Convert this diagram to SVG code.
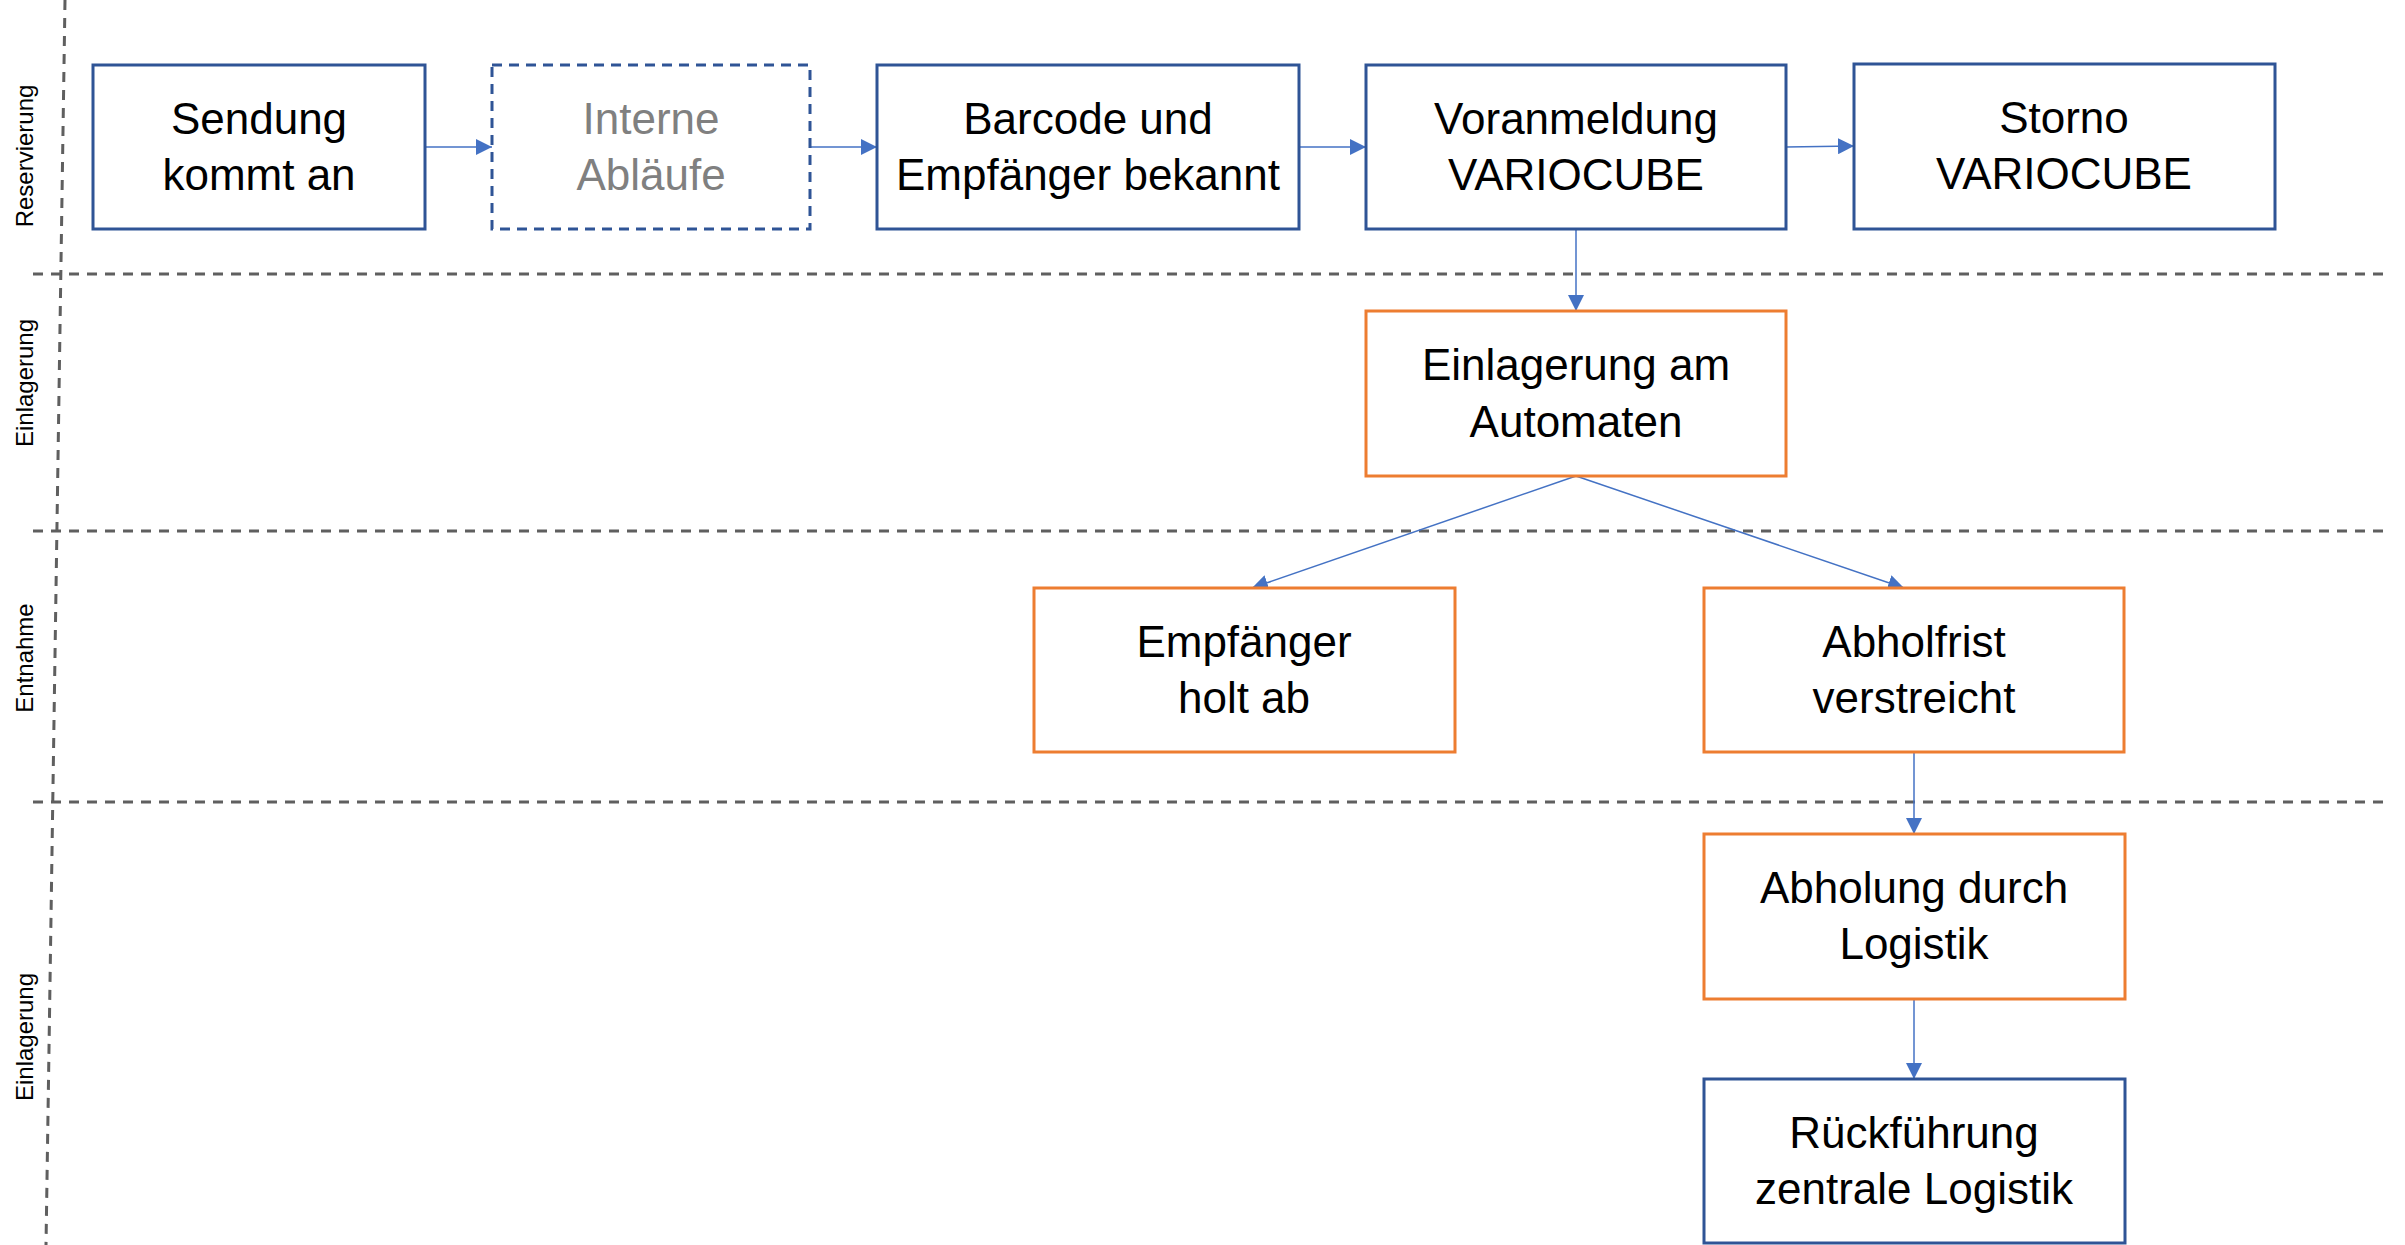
<svg xmlns="http://www.w3.org/2000/svg" width="2405" height="1245" viewBox="0 0 2405 1245">
<defs>
<style>
.bg{fill:#ffffff}
.lane{stroke:#5f5f5f;stroke-width:3;stroke-dasharray:10 8;fill:none}
.lbl{font-family:"Liberation Sans",Arial,sans-serif;font-size:24px;fill:#000;text-anchor:middle}
.box{fill:#ffffff;stroke-width:3}
.blue{stroke:#2F5496}
.orange{stroke:#ED7D31}
.dash{stroke-dasharray:10 7}
.t{font-family:"Liberation Sans",Arial,sans-serif;font-size:44px;fill:#000;text-anchor:middle}
.grey{fill:#808080}
.con{stroke:#4472C4;stroke-width:1.5;fill:none;marker-end:url(#arr)}
</style>
<marker id="arr" markerUnits="userSpaceOnUse" markerWidth="16" markerHeight="16" viewBox="0 0 15 15" refX="15" refY="7.5" orient="auto">
<path d="M0,0 L15,7.5 L0,15 Z" fill="#4472C4"/>
</marker>
</defs>
<rect class="bg" x="0" y="0" width="2405" height="1245"/>
<g id="lanes">
<line class="lane" x1="33" y1="274" x2="2388" y2="274"/>
<line class="lane" x1="33" y1="531" x2="2388" y2="531"/>
<line class="lane" x1="33" y1="802" x2="2388" y2="802"/>
<line class="lane" x1="65" y1="0" x2="46" y2="1245"/>
<text class="lbl" transform="translate(33,156) rotate(-90)">Reservierung</text>
<text class="lbl" transform="translate(33,383) rotate(-90)">Einlagerung</text>
<text class="lbl" transform="translate(33,658) rotate(-90)">Entnahme</text>
<text class="lbl" transform="translate(33,1037) rotate(-90)">Einlagerung</text>
</g>
<g id="connectors">
<line class="con" x1="425" y1="147" x2="492" y2="147"/>
<line class="con" x1="810" y1="147" x2="877" y2="147"/>
<line class="con" x1="1299" y1="147" x2="1366" y2="147"/>
<line class="con" x1="1786" y1="147" x2="1854" y2="146"/>
<line class="con" x1="1576" y1="229" x2="1576" y2="311"/>
<line class="con" x1="1576" y1="476" x2="1252" y2="588"/>
<line class="con" x1="1576" y1="476" x2="1904" y2="588"/>
<line class="con" x1="1914" y1="752" x2="1914" y2="834"/>
<line class="con" x1="1914" y1="999" x2="1914" y2="1079"/>
</g>
<g id="n1">
<rect class="box blue" x="93" y="65" width="332" height="164"/>
<text class="t" x="259" y="134">Sendung</text>
<text class="t" x="259" y="190">kommt an</text>
</g>
<g id="n2">
<rect class="box blue dash" x="492" y="65" width="318" height="164"/>
<text class="t grey" x="651" y="134">Interne</text>
<text class="t grey" x="651" y="190">Abläufe</text>
</g>
<g id="n3">
<rect class="box blue" x="877" y="65" width="422" height="164"/>
<text class="t" x="1088" y="134">Barcode und</text>
<text class="t" x="1088" y="190">Empfänger bekannt</text>
</g>
<g id="n4">
<rect class="box blue" x="1366" y="65" width="420" height="164"/>
<text class="t" x="1576" y="134">Voranmeldung</text>
<text class="t" x="1576" y="190">VARIOCUBE</text>
</g>
<g id="n5">
<rect class="box blue" x="1854" y="64" width="421" height="165"/>
<text class="t" x="2064" y="133">Storno</text>
<text class="t" x="2064" y="189">VARIOCUBE</text>
</g>
<g id="n6">
<rect class="box orange" x="1366" y="311" width="420" height="165"/>
<text class="t" x="1576" y="380">Einlagerung am</text>
<text class="t" x="1576" y="437">Automaten</text>
</g>
<g id="n7">
<rect class="box orange" x="1034" y="588" width="421" height="164"/>
<text class="t" x="1244" y="657">Empfänger</text>
<text class="t" x="1244" y="713">holt ab</text>
</g>
<g id="n8">
<rect class="box orange" x="1704" y="588" width="420" height="164"/>
<text class="t" x="1914" y="657">Abholfrist</text>
<text class="t" x="1914" y="713">verstreicht</text>
</g>
<g id="n9">
<rect class="box orange" x="1704" y="834" width="421" height="165"/>
<text class="t" x="1914" y="903">Abholung durch</text>
<text class="t" x="1914" y="959">Logistik</text>
</g>
<g id="n10">
<rect class="box blue" x="1704" y="1079" width="421" height="164"/>
<text class="t" x="1914" y="1148">Rückführung</text>
<text class="t" x="1914" y="1204">zentrale Logistik</text>
</g>
</svg>
